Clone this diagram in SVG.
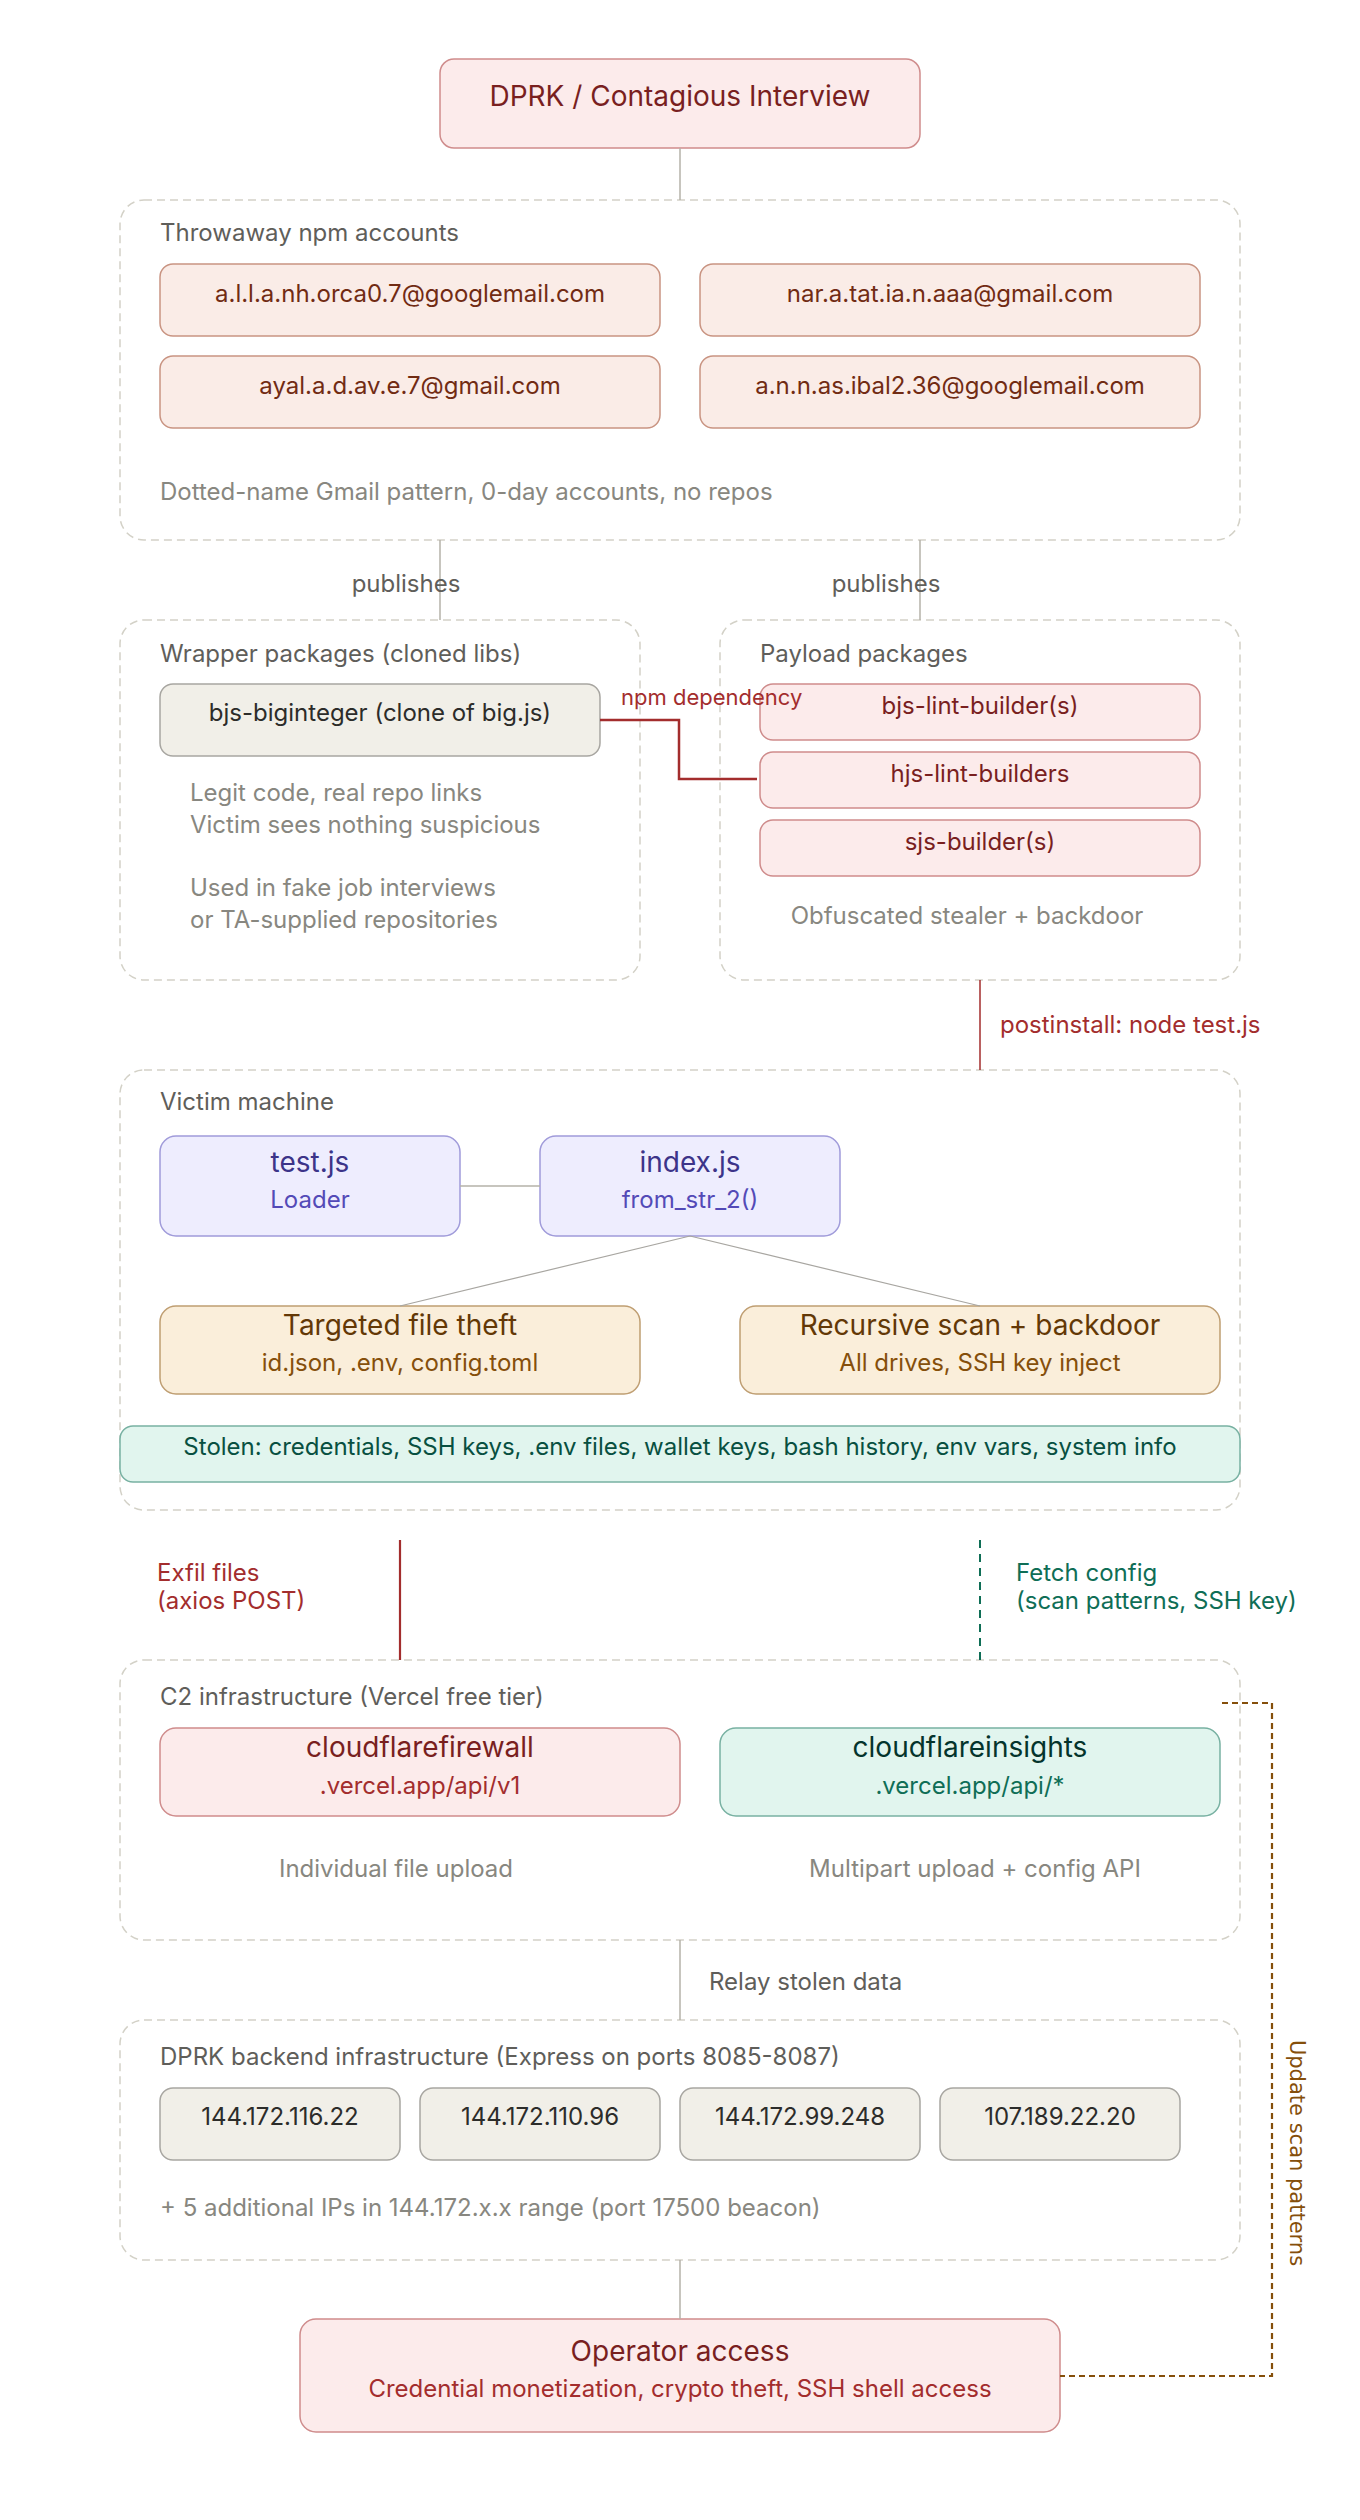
<svg xmlns="http://www.w3.org/2000/svg" width="1360" height="2520" viewBox="0 0 1360 2520">
<style>
text{font-family:Inter,"Liberation Sans",sans-serif;}
.bg{fill:#ffffff;}
.cont{fill:none;stroke:#D3D1C7;stroke-width:1.5;stroke-dasharray:8 5;}
.ctitle{font-size:24px;fill:#5F5E5A;}
.note{font-size:24px;fill:#888780;}
.red{fill:#FCEBEB;stroke:#CF8C8C;stroke-width:1.5;}
.coral{fill:#FAECE7;stroke:#C99482;stroke-width:1.5;}
.gray{fill:#F1EFE8;stroke:#A8A6A1;stroke-width:1.5;}
.purple{fill:#EEEDFE;stroke:#A09BDA;stroke-width:1.5;}
.amber{fill:#FAEEDA;stroke:#BF9E72;stroke-width:1.5;}
.teal{fill:#E1F5EE;stroke:#78B1A2;stroke-width:1.5;}
.t28{font-size:28px;text-anchor:middle;}
.t24{font-size:24px;text-anchor:middle;}
.line{fill:none;stroke:#B4B2A9;stroke-width:1.5;}
.lbl{font-size:24px;fill:#5F5E5A;}
</style>
<rect class="bg" x="0" y="0" width="1360" height="2520"/>

<g id="dprk">
  <rect class="red" x="440" y="59" width="480" height="89" rx="14"/>
  <text class="t28" x="680" y="106" fill="#791F1F">DPRK / Contagious Interview</text>
</g>

<g id="accounts">
  <rect class="cont" x="120" y="200" width="1120" height="340" rx="24"/>
  <text class="ctitle" x="160" y="241">Throwaway npm accounts</text>
  <text class="note" x="160" y="500">Dotted-name Gmail pattern, 0-day accounts, no repos</text>
</g>
<g id="acc1"><rect class="coral" x="160" y="264" width="500" height="72" rx="13"/><text class="t24" x="410" y="302" fill="#712B13">a.l.l.a.nh.orca0.7@googlemail.com</text></g>
<g id="acc2"><rect class="coral" x="700" y="264" width="500" height="72" rx="13"/><text class="t24" x="950" y="302" fill="#712B13">nar.a.tat.ia.n.aaa@gmail.com</text></g>
<g id="acc3"><rect class="coral" x="160" y="356" width="500" height="72" rx="13"/><text class="t24" x="410" y="394" fill="#712B13">ayal.a.d.av.e.7@gmail.com</text></g>
<g id="acc4"><rect class="coral" x="700" y="356" width="500" height="72" rx="13"/><text class="t24" x="950" y="394" fill="#712B13">a.n.n.as.ibal2.36@googlemail.com</text></g>

<g id="wrapper">
  <rect class="cont" x="120" y="620" width="520" height="360" rx="24"/>
  <text class="ctitle" x="160" y="662">Wrapper packages (cloned libs)</text>
  <text class="note" x="190" y="801">Legit code, real repo links</text>
  <text class="note" x="190" y="833">Victim sees nothing suspicious</text>
  <text class="note" x="190" y="896">Used in fake job interviews</text>
  <text class="note" x="190" y="928">or TA-supplied repositories</text>
</g>
<g id="bjs-biginteger"><rect class="gray" x="160" y="684" width="440" height="72" rx="13"/><text class="t24" x="380" y="721" fill="#2C2C2A">bjs-biginteger (clone of big.js)</text></g>

<g id="payload">
  <rect class="cont" x="720" y="620" width="520" height="360" rx="24"/>
  <text class="ctitle" x="760" y="662">Payload packages</text>
  <text class="note" x="967" y="924" text-anchor="middle">Obfuscated stealer + backdoor</text>
</g>
<g id="pay1"><rect class="red" x="760" y="684" width="440" height="56" rx="13"/><text class="t24" x="980" y="714" fill="#791F1F">bjs-lint-builder(s)</text></g>
<g id="pay2"><rect class="red" x="760" y="752" width="440" height="56" rx="13"/><text class="t24" x="980" y="782" fill="#791F1F">hjs-lint-builders</text></g>
<g id="pay3"><rect class="red" x="760" y="820" width="440" height="56" rx="13"/><text class="t24" x="980" y="850" fill="#791F1F">sjs-builder(s)</text></g>

<g id="victim">
  <rect class="cont" x="120" y="1070" width="1120" height="440" rx="24"/>
  <text class="ctitle" x="160" y="1110">Victim machine</text>
</g>
<g id="testjs"><rect class="purple" x="160" y="1136" width="300" height="100" rx="16"/><text class="t28" x="310" y="1172" fill="#3C3489">test.js</text><text class="t24" x="310" y="1208" fill="#534AB7">Loader</text></g>
<g id="indexjs"><rect class="purple" x="540" y="1136" width="300" height="100" rx="16"/><text class="t28" x="690" y="1172" fill="#3C3489">index.js</text><text class="t24" x="690" y="1208" fill="#534AB7">from_str_2()</text></g>
<g id="targeted"><rect class="amber" x="160" y="1306" width="480" height="88" rx="16"/><text class="t28" x="400" y="1335" fill="#633806">Targeted file theft</text><text class="t24" x="400" y="1371" fill="#854F0B">id.json, .env, config.toml</text></g>
<g id="recursive"><rect class="amber" x="740" y="1306" width="480" height="88" rx="16"/><text class="t28" x="980" y="1335" fill="#633806">Recursive scan + backdoor</text><text class="t24" x="980" y="1371" fill="#854F0B">All drives, SSH key inject</text></g>
<g id="stolen"><rect class="teal" x="120" y="1426" width="1120" height="56" rx="13"/><text class="t24" x="680" y="1455" fill="#085041">Stolen: credentials, SSH keys, .env files, wallet keys, bash history, env vars, system info</text></g>

<g id="c2">
  <rect class="cont" x="120" y="1660" width="1120" height="280" rx="24"/>
  <text class="ctitle" x="160" y="1705">C2 infrastructure (Vercel free tier)</text>
  <text class="note" x="396" y="1877" text-anchor="middle">Individual file upload</text>
  <text class="note" x="975" y="1877" text-anchor="middle">Multipart upload + config API</text>
</g>
<g id="cloudflarefirewall"><rect class="red" x="160" y="1728" width="520" height="88" rx="16"/><text class="t28" x="420" y="1757" fill="#791F1F">cloudflarefirewall</text><text class="t24" x="420" y="1794" fill="#A32D2D">.vercel.app/api/v1</text></g>
<g id="cloudflareinsights"><rect class="teal" x="720" y="1728" width="500" height="88" rx="16"/><text class="t28" x="970" y="1757" fill="#04342C">cloudflareinsights</text><text class="t24" x="970" y="1794" fill="#0F6E56">.vercel.app/api/*</text></g>

<g id="backend">
  <rect class="cont" x="120" y="2020" width="1120" height="240" rx="24"/>
  <text class="ctitle" x="160" y="2065">DPRK backend infrastructure (Express on ports 8085-8087)</text>
  <text class="note" x="160" y="2216">+ 5 additional IPs in 144.172.x.x range (port 17500 beacon)</text>
</g>
<g id="ip1"><rect class="gray" x="160" y="2088" width="240" height="72" rx="13"/><text class="t24" x="280" y="2125" fill="#2C2C2A">144.172.116.22</text></g>
<g id="ip2"><rect class="gray" x="420" y="2088" width="240" height="72" rx="13"/><text class="t24" x="540" y="2125" fill="#2C2C2A">144.172.110.96</text></g>
<g id="ip3"><rect class="gray" x="680" y="2088" width="240" height="72" rx="13"/><text class="t24" x="800" y="2125" fill="#2C2C2A">144.172.99.248</text></g>
<g id="ip4"><rect class="gray" x="940" y="2088" width="240" height="72" rx="13"/><text class="t24" x="1060" y="2125" fill="#2C2C2A">107.189.22.20</text></g>

<g id="operator"><rect class="red" x="300" y="2319" width="760" height="113" rx="16"/><text class="t28" x="680" y="2361" fill="#791F1F">Operator access</text><text class="t24" x="680" y="2397" fill="#A32D2D">Credential monetization, crypto theft, SSH shell access</text></g>

<g id="connectors">
  <line class="line" x1="680" y1="148" x2="680" y2="200"/>
  <line class="line" x1="440" y1="540" x2="440" y2="620"/>
  <line class="line" x1="920" y1="540" x2="920" y2="620"/>
  <path d="M600 720 H679 V779 H757" fill="none" stroke="#A32D2D" stroke-width="2.5"/>
  <line x1="980" y1="980" x2="980" y2="1070" stroke="#A32D2D" stroke-width="1.5"/>
  <line class="line" x1="460" y1="1186" x2="540" y2="1186" stroke-width="2.5"/>
  <line x1="690" y1="1236" x2="400" y2="1306" stroke="#A8A6A1" stroke-width="1.2"/>
  <line x1="690" y1="1236" x2="980" y2="1306" stroke="#A8A6A1" stroke-width="1.2"/>
  <line x1="400" y1="1540" x2="400" y2="1660" stroke="#A32D2D" stroke-width="2.2"/>
  <line x1="980" y1="1540" x2="980" y2="1660" stroke="#0F6E56" stroke-width="2" stroke-dasharray="8 6"/>
  <line class="line" x1="680" y1="1940" x2="680" y2="2020"/>
  <line class="line" x1="680" y1="2260" x2="680" y2="2319"/>
  <path d="M1222 1703 H1272 V2376 H1060" fill="none" stroke="#854F0B" stroke-width="2.2" stroke-dasharray="6 4"/>
  <text class="lbl" x="406" y="592" text-anchor="middle">publishes</text>
  <text class="lbl" x="886" y="592" text-anchor="middle">publishes</text>
  <text x="621" y="705" font-size="22" fill="#A32D2D">npm dependency</text>
  <text x="1000" y="1033" font-size="24" fill="#A32D2D">postinstall: node test.js</text>
  <text x="157" y="1581" font-size="24" fill="#A32D2D">Exfil files</text>
  <text x="157" y="1609" font-size="24" fill="#A32D2D">(axios POST)</text>
  <text x="1016" y="1581" font-size="24" fill="#0F6E56">Fetch config</text>
  <text x="1016" y="1609" font-size="24" fill="#0F6E56">(scan patterns, SSH key)</text>
  <text class="lbl" x="709" y="1990">Relay stolen data</text>
  <text transform="translate(1290 2153) rotate(90)" text-anchor="middle" font-size="21" fill="#854F0B" style="font-family:'DejaVu Sans',sans-serif">Update scan patterns</text>
</g>
</svg>
